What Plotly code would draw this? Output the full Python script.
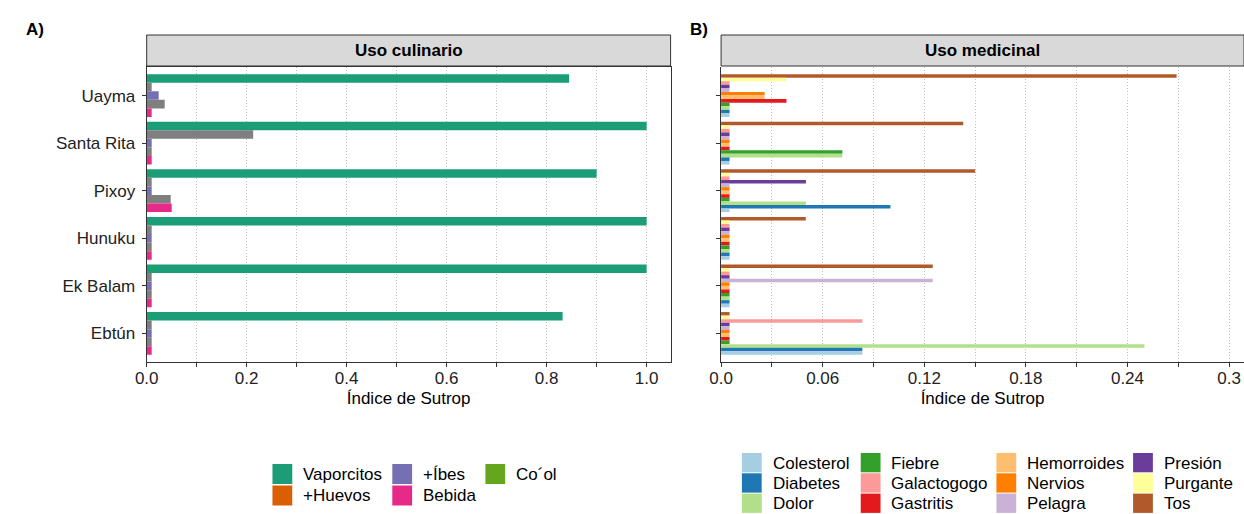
import plotly.graph_objects as go

W, H = 1244, 514

# ---------------- data ----------------
localidades = ["Uayma", "Santa Rita", "Pixoy", "Hunuku", "Ek Balam", "Ebtún"]

# Uso culinario (Índice de Sutrop)
vaporcitos = [0.845, 1.0, 0.90, 1.0, 1.0, 0.832]
huevos = [0.01, 0.213, 0.01, 0.01, 0.01, 0.01]
ibes = [0.024, 0.01, 0.01, 0.01, 0.01, 0.01]
coool = [0.036, 0.01, 0.048, 0.01, 0.01, 0.01]
bebida = [0.01, 0.01, 0.05, 0.01, 0.01, 0.01]

# Uso medicinal (Índice de Sutrop)
tos = [0.269, 0.143, 0.150, 0.050, 0.125, 0.005]
purgante = [0.0386, 0.005, 0.005, 0.005, 0.005, 0.005]
galactogogo = [0.005, 0.005, 0.005, 0.005, 0.005, 0.0834]
presion = [0.005, 0.005, 0.0501, 0.005, 0.005, 0.005]
pelagra = [0.005, 0.005, 0.005, 0.005, 0.125, 0.005]
nervios = [0.0257, 0.005, 0.005, 0.005, 0.005, 0.005]
hemorroides = [0.0257, 0.005, 0.005, 0.005, 0.005, 0.005]
gastritis = [0.0386, 0.005, 0.005, 0.005, 0.005, 0.005]
fiebre = [0.005, 0.0716, 0.005, 0.005, 0.005, 0.005]
dolor = [0.005, 0.0716, 0.0501, 0.005, 0.005, 0.250]
diabetes = [0.005, 0.005, 0.100, 0.005, 0.005, 0.0834]
colesterol = [0.005, 0.005, 0.005, 0.005, 0.005, 0.0834]

x1_ticks = [0.0, 0.2, 0.4, 0.6, 0.8, 1.0]
x1_ticktext = ["0.0", "0.2", "0.4", "0.6", "0.8", "1.0"]
x2_ticks = [0.0, 0.06, 0.12, 0.18, 0.24, 0.3]
x2_ticktext = ["0.0", "0.06", "0.12", "0.18", "0.24", "0.3"]

# ---------------- styles ----------------
FONT = "Liberation Sans, Arial, Helvetica, sans-serif"
GRAY_NA = "#7F7F7F"
cul_colors = {"Vaporcitos": "#1B9E77", "+Huevos": "#D95F02", "+Íbes": "#7570B3",
              "Bebida": "#E7298A", "Co´ol": "#66A61E"}
med_colors = {"Colesterol": "#A6CEE3", "Diabetes": "#1F78B4", "Dolor": "#B2DF8A",
              "Fiebre": "#33A02C", "Galactogogo": "#FB9A99", "Gastritis": "#E31A1C",
              "Hemorroides": "#FDBF6F", "Nervios": "#FF7F00", "Pelagra": "#CAB2D6",
              "Presión": "#6A3D9A", "Purgante": "#FFFF99", "Tos": "#B15928"}


def px(x):
    return x / W


def py(y):
    return 1 - y / H


fig = go.Figure()

# culinary bars, top to bottom within each group
cul_bars = [("Vaporcitos", vaporcitos, cul_colors["Vaporcitos"]),
            ("+Huevos", huevos, GRAY_NA),
            ("+Íbes", ibes, cul_colors["+Íbes"]),
            ("Co´ol", coool, GRAY_NA),
            ("Bebida", bebida, cul_colors["Bebida"])]
for name, vals, col in cul_bars:
    fig.add_trace(go.Bar(y=localidades, x=vals, orientation="h", name=name,
                         marker=dict(color=col, line=dict(width=0)),
                         xaxis="x", yaxis="y", showlegend=False))

med_bars = [("Tos", tos), ("Purgante", purgante), ("Galactogogo", galactogogo),
            ("Presión", presion), ("Pelagra", pelagra), ("Nervios", nervios),
            ("Hemorroides", hemorroides), ("Gastritis", gastritis), ("Fiebre", fiebre),
            ("Dolor", dolor), ("Diabetes", diabetes), ("Colesterol", colesterol)]
for name, vals in med_bars:
    fig.add_trace(go.Bar(y=localidades, x=vals, orientation="h", name=name,
                         marker=dict(color=med_colors[name], line=dict(width=0)),
                         xaxis="x2", yaxis="y2", showlegend=False))

LINE = "#333333"
GRID = "#BDBDBD"
DASH = "1px,2px"
ydom = [py(362), py(67)]
axis_common = dict(showline=True, linecolor=LINE, linewidth=1, ticks="outside",
                   ticklen=4, tickcolor=LINE, tickwidth=1, ticklabelstandoff=-3,
                   tickfont=dict(family=FONT, size=17, color="#222222"),
                   showgrid=True, gridcolor=GRID, griddash=DASH, gridwidth=1,
                   zeroline=False, fixedrange=True)

fig.update_layout(
    width=W, height=H, margin=dict(l=0, r=0, t=0, b=0),
    paper_bgcolor="white", plot_bgcolor="white",
    barmode="group", bargap=0.1, bargroupgap=0,
    showlegend=False,
    font=dict(family=FONT, size=17, color="#000000"),
    xaxis=dict(domain=[px(136), px(665)], range=[0, 1.048], anchor="y",
               tickvals=x1_ticks, ticktext=x1_ticktext, mirror=True,
               minor=dict(dtick=0.1, tick0=0, ticks="outside", ticklen=4, tickcolor=LINE,
                          showgrid=True, gridcolor=GRID, griddash=DASH, gridwidth=1),
               title=dict(text="Índice de Sutrop", font=dict(family=FONT, size=17, color="#000"),
                          standoff=4),
               **axis_common),
    yaxis=dict(domain=ydom, anchor="x", type="category", categoryorder="array",
               categoryarray=localidades, range=[5.6, -0.6], mirror=True,
               showline=True, linecolor=LINE, linewidth=1, ticks="outside", ticklen=4,
               tickcolor=LINE, ticklabelstandoff=3,
               tickfont=dict(family=FONT, size=17, color="#222222"),
               showgrid=False, zeroline=False, fixedrange=True),
    xaxis2=dict(domain=[px(716), 1.0], range=[0, 0.3088], anchor="y2",
                tickvals=x2_ticks, ticktext=x2_ticktext,
                minor=dict(dtick=0.03, tick0=0, ticks="outside", ticklen=4, tickcolor=LINE,
                           showgrid=True, gridcolor=GRID, griddash=DASH, gridwidth=1),
                title=dict(text="Índice de Sutrop", font=dict(family=FONT, size=17, color="#000"),
                           standoff=4),
                **axis_common),
    yaxis2=dict(domain=ydom, anchor="x2", type="category", categoryorder="array",
                categoryarray=localidades, range=[5.6, -0.6], showticklabels=False,
                showline=True, linecolor=LINE, linewidth=1, ticks="outside", ticklen=4,
                tickcolor=LINE, showgrid=False, zeroline=False, fixedrange=True),
)

shapes = []
annotations = []

# facet strips
for x0, x1, label in [(136, 665, "Uso culinario"), (716, 1244, "Uso medicinal")]:
    shapes.append(dict(type="rect", xref="paper", yref="paper", x0=px(x0), x1=px(x1),
                       y0=py(66), y1=py(35), fillcolor="#D9D9D9",
                       line=dict(color=LINE, width=1), layer="above"))
    annotations.append(dict(text="<b>%s</b>" % label, xref="paper", yref="paper",
                            x=px((x0 + x1) / 2), y=py(51), xanchor="center", yanchor="middle",
                            showarrow=False, font=dict(family=FONT, size=17, color="#000")))

# panel tags
for x, tag in [(12, "A)"), (683, "B)")]:
    annotations.append(dict(text="<b>%s</b>" % tag, xref="paper", yref="paper",
                            x=px(x), y=py(29), xanchor="left", yanchor="middle",
                            showarrow=False, font=dict(family=FONT, size=17, color="#000")))

# legends (drawn as keys + labels)
cul_legend = [["Vaporcitos", "+Huevos"], ["+Íbes", "Bebida"], ["Co´ol"]]
cul_cols_x = [263, 384, 478]
cul_rows_y = [464, 485.5]
for ci, col in enumerate(cul_legend):
    for ri, name in enumerate(col):
        x0 = cul_cols_x[ci]
        y0 = cul_rows_y[ri]
        shapes.append(dict(type="rect", xref="paper", yref="paper", x0=px(x0), x1=px(x0 + 20),
                           y0=py(y0 + 20), y1=py(y0), fillcolor=cul_colors[name],
                           line=dict(width=0)))
        annotations.append(dict(text=name, xref="paper", yref="paper", x=px(x0 + 29),
                                y=py(y0 + 10), xanchor="left", yanchor="middle",
                                showarrow=False, font=dict(family=FONT, size=17, color="#000")))

med_legend = [["Colesterol", "Diabetes", "Dolor"], ["Fiebre", "Galactogogo", "Gastritis"],
              ["Hemorroides", "Nervios", "Pelagra"], ["Presión", "Purgante", "Tos"]]
med_cols_x = [737, 857, 994, 1132]
med_rows_y = [453, 473.3, 493.6]
for ci, col in enumerate(med_legend):
    for ri, name in enumerate(col):
        x0 = med_cols_x[ci]
        y0 = med_rows_y[ri]
        shapes.append(dict(type="rect", xref="paper", yref="paper", x0=px(x0), x1=px(x0 + 20),
                           y0=py(y0 + 19.3), y1=py(y0), fillcolor=med_colors[name],
                           line=dict(width=0)))
        annotations.append(dict(text=name, xref="paper", yref="paper", x=px(x0 + 29),
                                y=py(y0 + 10), xanchor="left", yanchor="middle",
                                showarrow=False, font=dict(family=FONT, size=17, color="#000")))

fig.update_layout(shapes=shapes, annotations=annotations)
fig.write_html("out.html", config={"displayModeBar": False},
               post_script="document.body.style.margin='0';document.body.style.overflow='hidden';")
